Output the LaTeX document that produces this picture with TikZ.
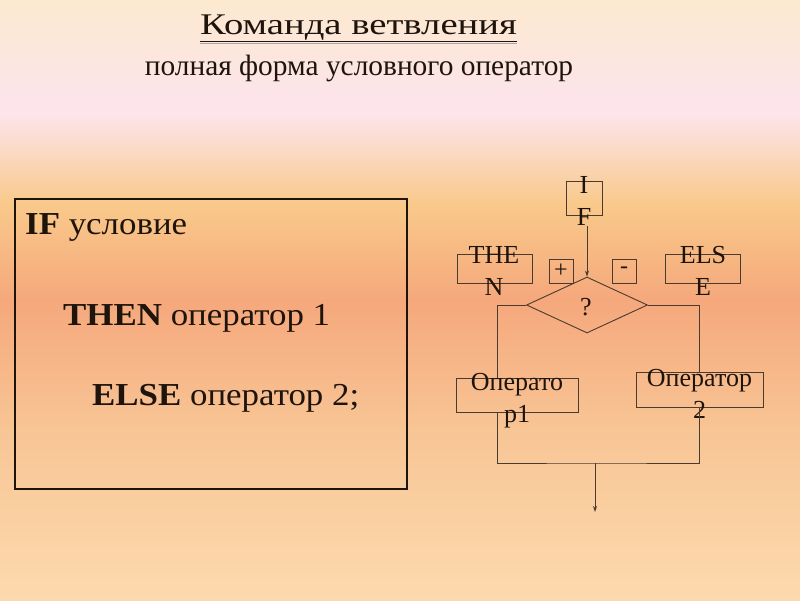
\documentclass[tikz,border=0pt]{standalone}
\usepackage{fontspec}
\setmainfont{Liberation Serif}
\newfontfamily\titlefont[FakeStretch=1.29]{Liberation Serif}
\newfontfamily\codefont[FakeStretch=1.09]{Liberation Serif}
\usetikzlibrary{shapes.geometric,arrows.meta,calc}
\definecolor{bgA}{HTML}{FCE9CF}
\definecolor{bgB}{HTML}{FCE4EA}
\definecolor{bgC}{HTML}{F9C98A}
\definecolor{bgD}{HTML}{F5A87C}
\definecolor{bgE}{HTML}{F8C595}
\definecolor{bgF}{HTML}{FCDAAE}
\definecolor{ink}{HTML}{1E140C}
\definecolor{linec}{HTML}{4A3A30}
\tikzset{
  fbox/.style={draw=linec, line width=0.9pt, inner sep=0pt, rectangle},
  flbl/.style={text=ink, align=center, inner sep=0pt, font=\fontsize{26}{32}\selectfont},
  conn/.style={draw=linec, line width=0.9pt},
  arr/.style={conn, -{Stealth[length=6pt,width=4pt]}},
  code/.style={text=ink, anchor=base west, inner sep=0pt, font=\codefont\fontsize{32}{38}\selectfont}
}
\begin{document}
\begin{tikzpicture}[x=1pt,y=-1pt]
\useasboundingbox (0,0) rectangle (800,600);
% background
\shade[top color=bgA, bottom color=bgB] (0,0) rectangle (800,100);
\shade[top color=bgB, bottom color=bgB] (0,99.5) rectangle (800,115);
\shade[top color=bgB, bottom color=bgC] (0,114.5) rectangle (800,205);
\shade[top color=bgC, bottom color=bgD] (0,204.5) rectangle (800,300);
\shade[top color=bgD, bottom color=bgE] (0,299.5) rectangle (800,430);
\shade[top color=bgE, bottom color=bgF] (0,429.5) rectangle (800,600);
% title
\node[text=ink, anchor=base, inner sep=0pt, font=\titlefont\fontsize{30}{36}\selectfont] (title) at (358.5,34) {Команда ветвления};
\draw[black!35, line width=1.5pt] (title.west |- 0,43.5) -- (title.east |- 0,43.5);
\draw[ink, line width=1.6pt] (title.west |- 0,41.5) -- (title.east |- 0,41.5);
\node[text=ink, anchor=base, inner sep=0pt, font=\fontsize{29.4}{34}\selectfont] (subtitle) at (359,75) {полная форма условного оператор};
% left box
\node[draw=ink, line width=1.3pt, rectangle, minimum width=392pt, minimum height=290pt, inner sep=0pt] (codebox) at (211,344) {};
\node[code] (l1) at (25,234) {\textbf{IF} условие};
\node[code] (l2) at (63,325) {\textbf{THEN} оператор 1};
\node[code] (l3) at (92,405) {\textbf{ELSE} оператор 2;};
% flowchart boxes
\node[fbox, minimum width=36pt, minimum height=34pt] (ifbox) at (584,198) {};
\node[flbl] (iftext) at (584,201) {I\\F};
\node[fbox, minimum width=75pt, minimum height=29pt] (thenbox) at (494.5,268.5) {};
\node[flbl] (thentext) at (494,271) {THE\\N};
\node[fbox, minimum width=24pt, minimum height=24pt] (plus) at (561,271) {};
\node[flbl, font=\fontsize{24}{28}\selectfont] (plustext) at (561,271) {+};
\node[fbox, minimum width=24pt, minimum height=24pt] (minus) at (624,271) {};
\node[flbl, font=\fontsize{24}{28}\selectfont] (minustext) at (624,270) {-};
\node[fbox, minimum width=75pt, minimum height=29pt] (elsebox) at (702.5,268.5) {};
\node[flbl] (elsetext) at (703,271) {ELS\\E};
\node[draw=linec, line width=0.9pt, diamond, minimum width=121pt, minimum height=56pt, inner sep=0pt] (q) at (587,305) {};
\node[flbl] (qtext) at (586,307) {?};
\node[fbox, minimum width=122pt, minimum height=34pt] (op1) at (517,395) {};
\node[flbl] (op1text) at (517,400.5) {Операто\\р1};
\node[fbox, minimum width=127pt, minimum height=35pt] (op2) at (699.5,389.5) {};
\node[flbl] (op2text) at (699.5,393.5) {Оператор\\2};
% connectors
\coordinate (lx) at (497,0);
\coordinate (join) at (595,463);
\coordinate (out) at (595,512);
\draw[arr] ([yshift=-11pt]ifbox.south -| q.north) -- (q.north);
\draw[conn] (q.west) -| (op1.north -| lx);
\draw[conn] (q.east) -| (op2.north);
\draw[conn] (op1.south -| lx) |- (join) -| (op2.south);
\draw[arr] (join) -- (out);
\end{tikzpicture}
\end{document}
